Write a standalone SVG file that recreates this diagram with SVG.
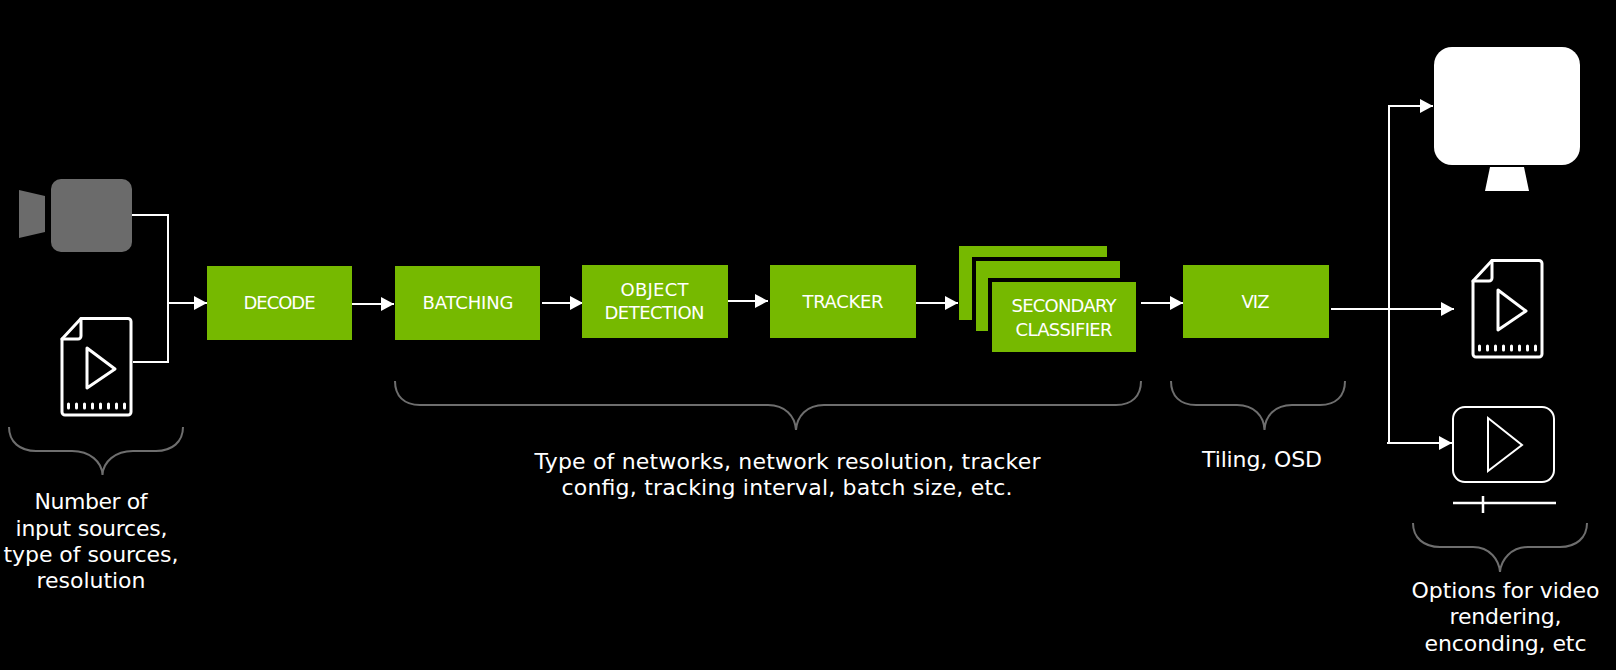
<svg xmlns="http://www.w3.org/2000/svg" xmlns:xlink="http://www.w3.org/1999/xlink" width="1616" height="670" viewBox="0 0 1616 670">
<style>
text{font-family:"DejaVu Sans","Liberation Sans",sans-serif;fill:#fff;text-anchor:middle}
.b{fill:#76b900}
.bt{font-size:18px}
.t{font-size:22px}
.c{fill:none;stroke:#fff;stroke-width:2}
.br{fill:none;stroke:#6e6e6e;stroke-width:2}
.ic{fill:none;stroke:#fff;stroke-width:3;stroke-linejoin:round;stroke-linecap:round}
</style>
<defs>
<marker id="a" markerUnits="userSpaceOnUse" markerWidth="14" markerHeight="15" refX="13" refY="7.500" orient="auto"><path d="M0 0.5L13 7.500L0 14.500Z" fill="#fff"/></marker>
<g id="file">
<path class="ic" d="M20 1.500H67a3 3 0 0 1 3 3V95a3 3 0 0 1-3 3H4a3 3 0 0 1-3-3V22Z"/>
<path class="ic" d="M20 1.500V19a3 3 0 0 1-3 3H1"/>
<path class="ic" d="M26 31L54 52L26 71Z"/>
<path d="M7.500 87V91M15.500 87V91M23.500 87V91M31.500 87V91M39.500 87V91M47.500 87V91M55.500 87V91M63.500 87V91" fill="none" stroke="#fff" stroke-width="3" stroke-linecap="round"/>
</g>
</defs>
<rect width="1616" height="670" fill="#000"/>
<g id="connectors">
<path class="c" d="M132 215H168V362H133"/>
<path class="c" d="M168 303H207" marker-end="url(#a)"/>
<path class="c" d="M352 304H394" marker-end="url(#a)"/>
<path class="c" d="M542 303H583" marker-end="url(#a)"/>
<path class="c" d="M726 301H768" marker-end="url(#a)"/>
<path class="c" d="M916 303H958" marker-end="url(#a)"/>
<path class="c" d="M1141 303H1183" marker-end="url(#a)"/>
<path class="c" d="M1331 309H1454" marker-end="url(#a)"/>
<path class="c" d="M1389 443V106H1433" marker-end="url(#a)"/>
<path class="c" d="M1387 443H1452" marker-end="url(#a)"/>
</g>
<g id="camera" fill="#6b6b6b"><rect x="51" y="179" width="81" height="73" rx="10"/><path d="M19 190L45 196V232L19 238Z"/></g>
<g id="file-input"><use xlink:href="#file" href="#file" x="61" y="317"/></g>
<g id="decode"><rect class="b" x="207" y="266" width="145" height="74"/><text class="bt" x="279.500" y="309" textLength="72">DECODE</text></g>
<g id="batching"><rect class="b" x="395" y="266" width="145" height="74"/><text class="bt" x="468" y="309" textLength="91">BATCHING</text></g>
<g id="object-detection"><rect class="b" x="582" y="265" width="146" height="73"/><text class="bt" x="654.500" y="296" textLength="68">OBJECT</text><text class="bt" x="654.500" y="319" textLength="100">DETECTION</text></g>
<g id="tracker"><rect class="b" x="770" y="265" width="146" height="73"/><text class="bt" x="843" y="308" textLength="81">TRACKER</text></g>
<g id="secondary-classifier">
<path class="b" d="M959 246H1107V257H972V320H959Z"/>
<path class="b" d="M976 261H1120V278H988V331H976Z"/>
<rect class="b" x="992" y="282" width="144" height="70"/>
<text class="bt" x="1064" y="312" textLength="105">SECONDARY</text><text class="bt" x="1064" y="336" textLength="97">CLASSIFIER</text></g>
<g id="viz"><rect class="b" x="1183" y="265" width="146" height="73"/><text class="bt" x="1255.500" y="308" textLength="28">VIZ</text></g>
<g id="monitor" fill="#fff"><rect x="1434" y="47" width="146" height="118" rx="18"/><path d="M1490 167H1524L1529 191H1485Z"/></g>
<g id="file-output"><use xlink:href="#file" href="#file" x="1472" y="259"/></g>
<g id="video-player">
<rect x="1453" y="407" width="101" height="75" rx="12" fill="none" stroke="#fff" stroke-width="2"/>
<path d="M1488 418L1522 445L1488 471Z" fill="none" stroke="#fff" stroke-width="2"/>
<path d="M1453 503H1556M1483 496V513" stroke="#fff" stroke-width="2.500" fill="none"/>
</g>
<g id="braces">
<path class="br" d="M9 427C9 442 20 451 36 451H72C90 451 102 462 102.500 475C103 462 115 451 133 451H156C172 451 183 442 183 427"/>
<path class="br" d="M395 381C395 396 404 405 420 405H768C785 405 795 416 796 430C797 416 807 405 824 405H1116C1132 405 1141 396 1141 381"/>
<path class="br" d="M1171 381C1171 396 1180 405 1196 405H1237C1254 405 1264 416 1264.500 430C1265 416 1275 405 1292 405H1320C1336 405 1345 396 1345 381"/>
<path class="br" d="M1413 523C1413 538 1424 547 1440 547H1473C1490 547 1499 560 1500 572C1501 560 1511 547 1528 547H1560C1576 547 1587 538 1587 523"/>
</g>
<g id="labels">
<text class="t" x="91" y="509" textLength="113">Number of</text>
<text class="t" x="91.500" y="536" textLength="152">input sources,</text>
<text class="t" x="91" y="562" textLength="175">type of sources,</text>
<text class="t" x="91" y="588" textLength="109">resolution</text>
<text class="t" x="787.500" y="469" textLength="506">Type of networks, network resolution, tracker</text>
<text class="t" x="787" y="495" textLength="451">config, tracking interval, batch size, etc.</text>
<text class="t" x="1262" y="467" textLength="120">Tiling, OSD</text>
<text class="t" x="1505.500" y="598" textLength="188">Options for video</text>
<text class="t" x="1505.500" y="624" textLength="112">rendering,</text>
<text class="t" x="1505.500" y="651" textLength="162">enconding, etc</text>
</g>
</svg>
